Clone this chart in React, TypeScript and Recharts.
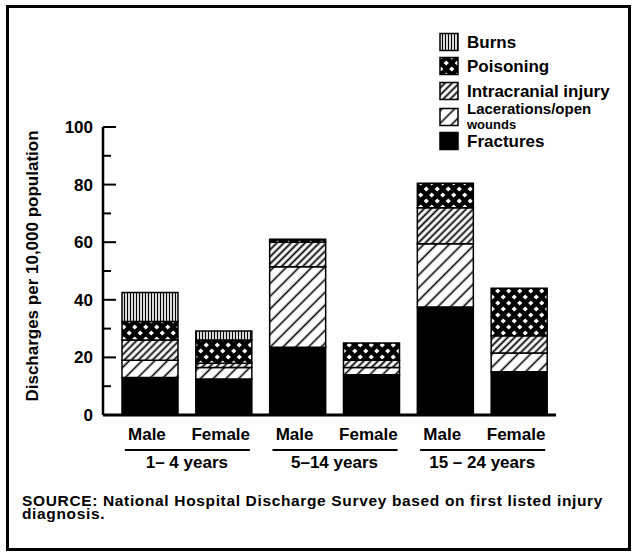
import React from "react";
import { BarChart, Bar, XAxis, YAxis } from "recharts";

const categories = ["Male", "Female", "Male", "Female", "Male", "Female"];
const ageGroups = ["1– 4 years", "1– 4 years", "5–14 years", "5–14 years", "15 – 24 years", "15 – 24 years"];
const fractures = [13, 12.5, 23.5, 14, 37.5, 15];
const lacerations = [6, 4, 28, 2.5, 22, 6.5];
const intracranial = [7, 1.5, 8.5, 2.5, 12.5, 6];
const poisoning = [6.5, 8, 1, 6, 8.5, 16.5];
const burns = [10, 3.2, 0, 0, 0, 0];
const yTicks = [0, 10, 20, 30, 40, 50, 60, 70, 80, 90, 100];

const data = categories.map((sex, i) => ({
  sex,
  group: ageGroups[i],
  fractures: fractures[i],
  lacerations: lacerations[i],
  intracranial: intracranial[i],
  poisoning: poisoning[i],
  burns: burns[i],
}));

const FONT = '"Liberation Sans", Arial, sans-serif';

function Patterns({ p }: { p: string }) {
  return (
    <defs>
      <pattern id={`${p}burns`} patternUnits="userSpaceOnUse" width={3} height={6}>
        <rect width={3} height={6} fill="#fff" />
        <line x1={1.5} y1={0} x2={1.5} y2={6} stroke="#000" strokeWidth={1.3} />
      </pattern>
      <pattern id={`${p}poison`} patternUnits="userSpaceOnUse" width={11} height={12}>
        <rect width={11} height={12} fill="#000" />
        <polygon points="2.75,0.5 5.4,3 2.75,5.5 0.1,3" fill="#fff" />
        <polygon points="8.25,6.5 10.9,9 8.25,11.5 5.6,9" fill="#fff" />
      </pattern>
      <pattern id={`${p}intra`} patternUnits="userSpaceOnUse" width={5} height={5} patternTransform="rotate(45)">
        <rect width={5} height={5} fill="#fff" />
        <line x1={2.5} y1={0} x2={2.5} y2={5} stroke="#000" strokeWidth={1.8} />
      </pattern>
      <pattern id={`${p}lac`} patternUnits="userSpaceOnUse" width={9} height={9} patternTransform="rotate(45)">
        <rect width={9} height={9} fill="#fff" />
        <line x1={4.5} y1={0} x2={4.5} y2={9} stroke="#000" strokeWidth={1.6} />
      </pattern>
    </defs>
  );
}

const legendItems = [
  { label: ["Burns"], fill: "burns" },
  { label: ["Poisoning"], fill: "poison" },
  { label: ["Intracranial injury"], fill: "intra" },
  { label: ["Lacerations/open", "wounds"], fill: "lac" },
  { label: ["Fractures"], fill: "" },
];
const legendRows = [12, 36, 61, 87, 111];

function YTick(props: any) {
  const { x, y, payload } = props;
  const major = payload.value % 20 === 0;
  return (
    <g>
      <line x1={x} y1={y} x2={x + (major ? 13 : 8)} y2={y} stroke="#000" strokeWidth={2} />
      {major && (
        <text x={x - 10} y={y + 6} textAnchor="end" fontFamily={FONT} fontWeight="bold" fontSize={17} fill="#000">
          {payload.value}
        </text>
      )}
    </g>
  );
}

function SexTick(props: any) {
  const { x, y, payload } = props;
  return (
    <text x={x - 3} y={y + 23} textAnchor="middle" fontFamily={FONT} fontWeight="bold" fontSize={17} fill="#000">
      {payload.value}
    </text>
  );
}

function GroupTick(props: any) {
  const { x, y, payload } = props;
  return (
    <g>
      <line x1={x - 62} y1={y + 3} x2={x + 63} y2={y + 3} stroke="#000" strokeWidth={2} />
      <text x={x} y={y + 21} textAnchor="middle" fontFamily={FONT} fontWeight="bold" fontSize={17} fill="#000">
        {payload.value}
      </text>
    </g>
  );
}

function YLabel(props: any) {
  const { viewBox } = props;
  const cx = 38;
  const cy = viewBox.y + viewBox.height / 2 - 5;
  return (
    <text transform={`translate(${cx},${cy}) rotate(-90)`} textAnchor="middle" fontFamily={FONT} fontWeight="bold" fontSize={17} fill="#000">
      Discharges per 10,000 population
    </text>
  );
}

export default function App() {
  return (
    <div style={{ position: "absolute", left: 0, top: 0, width: 633, height: 553, background: "#fff", fontFamily: FONT }}>
      <div style={{ position: "absolute", left: 6, top: 5, width: 625, height: 546, border: "3px solid #000", boxSizing: "border-box" }} />
      <BarChart width={633} height={553} data={data} margin={{ top: 127, right: 77, left: 0, bottom: 68 }} barSize={56}>
        <Patterns p="c-" />
        <YAxis
          width={103}
          domain={[0, 100]}
          ticks={yTicks}
          interval={0}
          tickLine={false}
          tickSize={0}
          tickMargin={0}
          tick={<YTick />}
          axisLine={{ stroke: "#000", strokeWidth: 2.5 }}
          label={<YLabel />}
        />
        <XAxis
          dataKey="sex"
          height={30}
          padding={{ left: 10, right: 0 }}
          tickLine={false}
          tickSize={0}
          tick={<SexTick />}
          axisLine={{ stroke: "#000", strokeWidth: 3 }}
          interval={0}
        />
        <XAxis
          xAxisId="group"
          dataKey="group"
          allowDuplicatedCategory={false}
          height={40}
          padding={{ left: 10, right: 0 }}
          tickLine={false}
          tickSize={0}
          axisLine={false}
          tick={<GroupTick />}
          interval={0}
        />
        <Bar dataKey="fractures" stackId="a" fill="#000" stroke="#000" strokeWidth={1.5} isAnimationActive={false} />
        <Bar dataKey="lacerations" stackId="a" fill="url(#c-lac)" stroke="#000" strokeWidth={1.5} isAnimationActive={false} />
        <Bar dataKey="intracranial" stackId="a" fill="url(#c-intra)" stroke="#000" strokeWidth={1.5} isAnimationActive={false} />
        <Bar dataKey="poisoning" stackId="a" fill="url(#c-poison)" stroke="#000" strokeWidth={1.5} isAnimationActive={false} />
        <Bar dataKey="burns" stackId="a" fill="url(#c-burns)" stroke="#000" strokeWidth={1.5} isAnimationActive={false} />
      </BarChart>
      <svg style={{ position: "absolute", left: 438, top: 30 }} width={190} height={125}>
        <Patterns p="l-" />
        {legendItems.map((it, i) => (
          <g key={i}>
            <rect x={2} y={legendRows[i] - 8.5} width={18} height={17} fill={it.fill ? `url(#l-${it.fill})` : "#000"} stroke="#000" strokeWidth={1.5} />
            {it.label.length === 1 ? (
              <text x={29} y={legendRows[i] + 6} fontFamily={FONT} fontWeight="bold" fontSize={17} fill="#000">
                {it.label[0]}
              </text>
            ) : (
              <g>
                <text x={29} y={legendRows[i] - 3} fontFamily={FONT} fontWeight="bold" fontSize={15} fill="#000">
                  {it.label[0]}
                </text>
                <text x={29} y={legendRows[i] + 12} fontFamily={FONT} fontWeight="bold" fontSize={13} fill="#000">
                  {it.label[1]}
                </text>
              </g>
            )}
          </g>
        ))}
      </svg>
      <div style={{ position: "absolute", left: 22, top: 494, width: 600, fontSize: 15.5, letterSpacing: "0.65px", fontWeight: "bold", lineHeight: "13px", color: "#000" }}>
        SOURCE: National Hospital Discharge Survey based on first listed injury diagnosis.
      </div>
    </div>
  );
}
